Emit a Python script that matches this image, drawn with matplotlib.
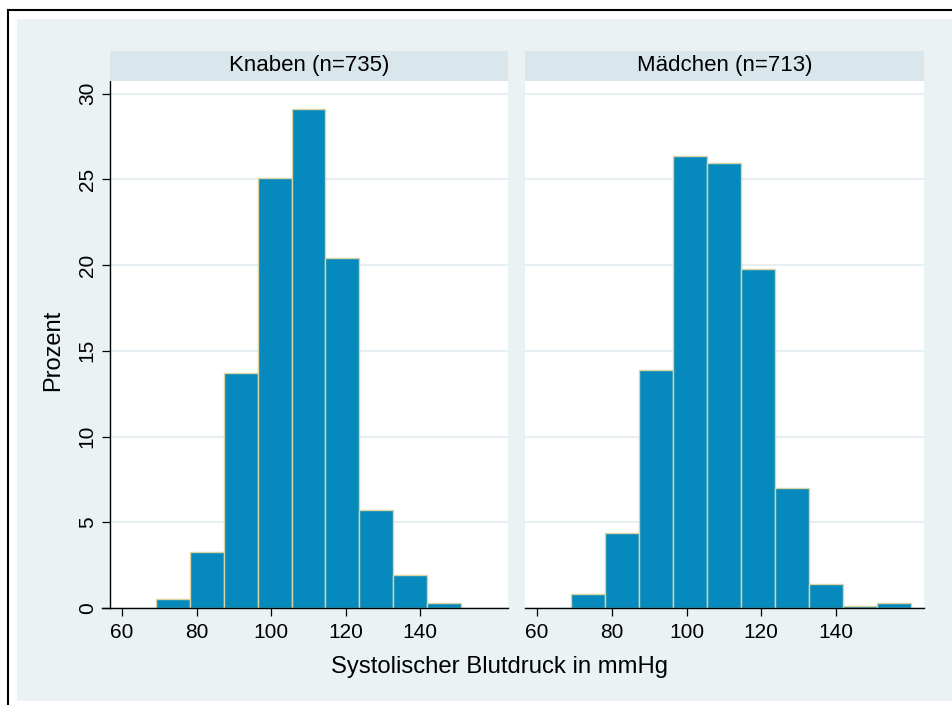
import numpy as np
import matplotlib
matplotlib.use("Agg")
import matplotlib.pyplot as plt
from matplotlib.patches import Rectangle
from matplotlib.lines import Line2D

plt.rcParams['font.family'] = ['Liberation Sans', 'DejaVu Sans']

# bin edges (mmHg), shared by both panels
bin_edges = [69.1, 78.2, 87.3, 96.4, 105.5, 114.6, 123.7, 132.8, 141.9, 151.0, 160.1]

# percent per bin
knaben_pct = [0.54, 3.27, 13.7, 25.05, 29.12, 20.4, 5.71, 1.9, 0.27]
maedchen_pct = [0.84, 4.35, 13.88, 26.37, 25.92, 19.78, 7.01, 1.40, 0.14, 0.28]

panel_titles = ['Knaben (n=735)', 'Mädchen (n=713)']
x_ticks = [60, 80, 100, 120, 140]
y_ticks = [0, 5, 10, 15, 20, 25, 30]

W, H = 953, 705
bg = '#EAF2F3'
strip_col = '#D9E6EB'
bar_col = '#068ABD'
edge_col = '#DCD3A2'

fig = plt.figure(figsize=(W / 100, H / 100), dpi=100)
fig.patch.set_facecolor('white')

def fx(px):
    return px / W

def fy(py):
    return (H - py) / H

# graph background and outer frame
fig.add_artist(Rectangle((fx(17), fy(701)), fx(953) - fx(17), fy(19) - fy(701),
                         transform=fig.transFigure, facecolor=bg, edgecolor='none', zorder=-10))
fig.add_artist(Line2D([fx(8), 1], [fy(10), fy(10)], transform=fig.transFigure, color='black', lw=1.5))
fig.add_artist(Line2D([fx(8.5), fx(8.5)], [0, fy(10)], transform=fig.transFigure, color='black', lw=1.5))

panels = [(110, 508, knaben_pct), (525, 924, maedchen_pct)]
axes = []
for i, (x0, x1, pct) in enumerate(panels):
    ax = fig.add_axes([fx(x0), fy(608), fx(x1) - fx(x0), fy(81) - fy(608)])
    edges = np.array(bin_edges[:len(pct) + 1])
    ax.bar(edges[:-1], pct, width=np.diff(edges), align='edge',
           color=bar_col, edgecolor=edge_col, linewidth=1.0, zorder=2)
    ax.set_xlim(56.75, 163.6)
    ax.set_ylim(0, 30.73)
    ax.set_xticks(x_ticks)
    ax.set_yticks(y_ticks)
    ax.yaxis.grid(True, color='#E6EEF1', lw=1.3)
    ax.set_axisbelow(True)
    ax.spines['top'].set_visible(False)
    ax.spines['right'].set_visible(False)
    ax.spines['bottom'].set_linewidth(1.0)
    ax.tick_params(axis='x', length=5.5, width=0.9, pad=5, labelsize=15)
    if i == 0:
        ax.spines['left'].set_linewidth(1.0)
        ax.tick_params(axis='y', length=5.5, width=0.9, pad=4, labelsize=15)
        for lab in ax.get_yticklabels():
            lab.set_rotation(90)
            lab.set_va('center')
    else:
        ax.spines['left'].set_visible(False)
        ax.tick_params(axis='y', left=False, labelleft=False)
    # strip title
    fig.add_artist(Rectangle((fx(x0), fy(81)), fx(x1) - fx(x0), fy(51) - fy(81),
                             transform=fig.transFigure, facecolor=strip_col, edgecolor='none'))
    fig.text((fx(x0) + fx(x1)) / 2, fy(66), panel_titles[i], ha='center', va='center', fontsize=16)
    axes.append(ax)

# x-axis line runs a little past the y axis in the left panel
fig.add_artist(Line2D([fx(102), fx(110)], [fy(608), fy(608)], transform=fig.transFigure, color='black', lw=1.0))

fig.text(fx(53), fy(350), 'Prozent', rotation=90, ha='center', va='center', fontsize=17)
fig.text(fx(499.5), fy(667), 'Systolischer Blutdruck in mmHg', ha='center', va='center', fontsize=17.2)

fig.savefig('out.png', dpi=100)
